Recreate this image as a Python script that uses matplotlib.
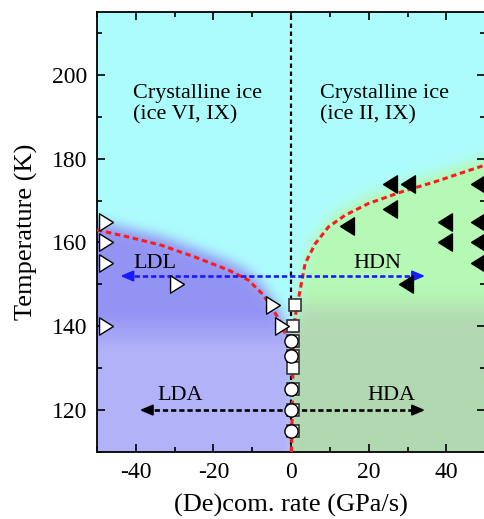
import numpy as np
import matplotlib
matplotlib.use("Agg")
import matplotlib.pyplot as plt

plt.rcParams['font.family'] = ['Liberation Serif', 'DejaVu Serif']

# boundary curves (red dashed)
left_x = [-50, -41.9, -33.3, -24.7, -16.1, -11.0, -7.5, -5.0, -2.8, -1.1, -0.3]
left_T = [163, 161.3, 159.3, 156.5, 153.4, 151.0, 147.8, 144.6, 141.0, 137.4, 136.5]
right_x = [0.1, 0.6, 1.0, 2.3, 3.6, 6.2, 9.6, 13.9, 19.9, 28.5, 37.1, 49.7, 50]
right_T = [110, 137.4, 142.2, 148.6, 155.0, 159.7, 163.7, 166.5, 169.3, 172.1, 174.5, 178.4, 178.5]

# open right triangles (decompression runs)
open_tri_x = [-47.6, -47.6, -47.6, -47.6, -29.5, -4.6, -2.3]
open_tri_T = [165, 160, 155, 140, 150, 145, 140]

# filled left triangles (compression runs)
fill_tri_x = [25.5, 30, 48, 25.5, 14.5, 39.6, 48, 39.6, 48, 48, 29.5]
fill_tri_T = [174, 174, 174, 168, 164, 165, 165, 160, 160, 155, 150]

# squares and circles near zero rate
sq_x = [1.0, 0.4, 0.5, 0.5, 0.4, 0.5, 0.5, 0.5]
sq_T = [145, 140, 136.5, 133, 130, 125, 120, 115]
circ_x = [0, 0, 0, 0, 0]
circ_T = [136.5, 133, 125, 120, 115]

# colours of the shaded regions
cyan = np.array([0.68, 0.99, 0.99])
ldl_col = np.array([0.58, 0.58, 0.96])
lda_col = np.array([0.70, 0.70, 0.98])
hdn_col = np.array([0.71, 0.98, 0.71])
hda_col = np.array([0.70, 0.85, 0.70])

xlo, xhi, ylo, yhi = -50, 50, 110, 215

fig = plt.figure(figsize=(4.84, 5.19), dpi=100)
ax = fig.add_axes([97 / 484, 67 / 519, 388.3 / 484, 440 / 519])


def blur(a, s):
    r = int(3 * s)
    k = np.exp(-0.5 * (np.arange(-r, r + 1) / s) ** 2)
    k /= k.sum()
    a = np.pad(a, r, mode='edge')
    a = np.apply_along_axis(lambda v: np.convolve(v, k, 'valid'), 0, a)
    a = np.apply_along_axis(lambda v: np.convolve(v, k, 'valid'), 1, a)
    return a


# ---- background shading (about one cell per pixel) ----
gx = np.linspace(xlo, xhi, 388)
gy = np.linspace(ylo, yhi, 440)
X, Y = np.meshgrid(gx, gy)
bl = np.interp(X, left_x, left_T)
br = np.interp(X, right_x[1:], right_T[1:])
m_left = blur(((Y < bl + 2.0) & (X < 1)).astype(float), 6)
m_right = blur(((Y < br + 2.0) & (X > -1.5)).astype(float), 6)
wl = np.clip((Y - 134) / 9, 0, 1)[..., None]
left_c = lda_col * (1 - wl) + ldl_col * wl
wr = (1 / (1 + np.exp(-(Y - 145) / 1.5)))[..., None]
right_c = hda_col * (1 - wr) + hdn_col * wr
img_l = cyan * (1 - m_left[..., None]) + left_c * m_left[..., None]
img_r = cyan * (1 - m_right[..., None]) + right_c * m_right[..., None]
img = np.where((X < 0)[..., None], img_l, img_r)
ax.imshow(img, extent=[xlo, xhi, ylo, yhi], origin='lower', aspect='auto',
          interpolation='bilinear', zorder=0)

# ---- lines ----
red = '#ff1a1a'
ax.axvline(0, color='black', ls=(0, (2, 1.6)), lw=1.6, zorder=2)
ax.plot(left_x, left_T, color=red, ls=(0, (1.8, 1.2)), lw=2.2, zorder=3)
ax.plot(right_x, right_T, color=red, ls=(0, (1.8, 1.2)), lw=2.2, zorder=3)


def dashed_arrow(x0, x1, T, color):
    ax.plot([x0 + 1.5, x1 - 1.5], [T, T], color=color, ls=(0, (2, 1.1)), lw=1.9, zorder=4)
    for xe, xs in ((x0, x0 + 2), (x1, x1 - 2)):
        ax.annotate('', xy=(xe, T), xytext=(xs, T),
                    arrowprops=dict(arrowstyle='-|>,head_length=0.75,head_width=0.32',
                                    color=color, lw=1.5, shrinkA=0, shrinkB=0),
                    zorder=4)


dashed_arrow(-44, 34.5, 152, '#1a1aff')
dashed_arrow(-39, 34.5, 120, 'black')

# ---- markers ----
tri_left = [(-0.8, 0), (0.8, 1), (0.8, -1), (-0.8, 0)]
tri_right = [(0.8, 0), (-0.8, 1), (-0.8, -1), (0.8, 0)]
ax.plot(sq_x, sq_T, 's', ms=8.5, mfc='white', mec='#333333', mew=1.2, ls='none', zorder=5)
ax.plot(circ_x, circ_T, 'o', ms=9.5, mfc='white', mec='black', mew=1.0, ls='none', zorder=6)
ax.plot(open_tri_x, open_tri_T, marker=tri_right, ms=12.5, mfc='white', mec='black',
        mew=1.0, ls='none', zorder=6, clip_on=False)
ax.plot(fill_tri_x, fill_tri_T, marker=tri_left, ms=12.5, mfc='black', mec='black',
        ls='none', zorder=6)

# ---- text ----
ax.text(-40.7, 193, 'Crystalline ice\n(ice VI, IX)', fontsize=16, va='center', ha='left')
ax.text(7.4, 193, 'Crystalline ice\n(ice II, IX)', fontsize=16, va='center', ha='left')
ax.text(-40.7, 155, 'LDL', fontsize=16, va='center', ha='left', zorder=7)
ax.text(16, 155, 'HDN', fontsize=16, va='center', ha='left', zorder=7)
ax.text(-34.5, 123.5, 'LDA', fontsize=16, va='center', ha='left', zorder=7)
ax.text(19.6, 123.5, 'HDA', fontsize=16, va='center', ha='left', zorder=7)

# ---- axes ----
ax.set_xlim(xlo, xhi)
ax.set_ylim(ylo, yhi)
ax.set_xticks([-40, -20, 0, 20, 40])
ax.set_xticklabels(['-40', '-20', '0', '20', '40'])
ax.set_xticks(np.arange(-50, 51, 10), minor=True)
ax.set_yticks([120, 140, 160, 180, 200])
ax.set_yticks(np.arange(110, 216, 10), minor=True)
ax.tick_params(which='both', direction='in', top=True, right=True, labelsize=17, width=1.2)
ax.tick_params(which='major', length=6, pad=7)
ax.tick_params(which='minor', length=3.5)
for s in ax.spines.values():
    s.set_linewidth(1.3)
ax.set_xlabel('(De)com. rate (GPa/s)', fontsize=19, labelpad=8)
ax.set_ylabel('Temperature (K)', fontsize=19, labelpad=10)

fig.savefig('out.png', dpi=100)
